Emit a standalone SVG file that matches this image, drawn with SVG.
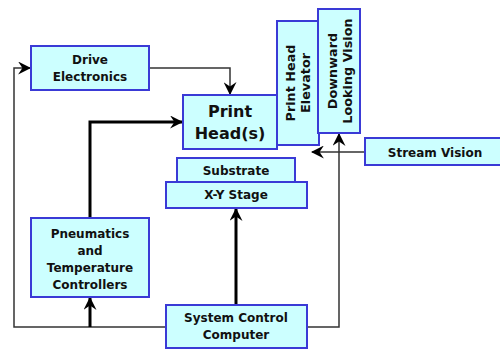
<svg xmlns="http://www.w3.org/2000/svg" width="500" height="349" viewBox="0 0 500 349">
<defs>
<marker id="ah" markerUnits="userSpaceOnUse" markerWidth="13" markerHeight="13" viewBox="0 0 12 12" refX="11" refY="6" orient="auto">
<path d="M0,0 L12,6 L0,12 L4,6 z" fill="#000"/>
</marker>
<style>
.box{fill:#ccffff;stroke:#3a3ad6;stroke-width:2}
.t{font-family:"DejaVu Sans",Verdana,sans-serif;font-weight:bold;font-size:12px;fill:#111;text-anchor:middle}
.big{font-size:16px}
.rot{font-size:12.8px}
.thin{fill:none;stroke:#333;stroke-width:1.5}
.thick{fill:none;stroke:#000;stroke-width:3}
</style>
</defs>
<rect width="500" height="349" fill="#fff"/>
<g id="connectors">
<path class="thin" d="M149,68 H230 V94" marker-end="url(#ah)"/>
<path class="thick" d="M90,218 V122 H182" marker-end="url(#ah)"/>
<path class="thin" d="M166,327 H14 V68 H30" marker-end="url(#ah)"/>
<path class="thick" d="M90,327 V298" marker-end="url(#ah)"/>
<path class="thick" d="M236,305 V209" marker-end="url(#ah)"/>
<path class="thin" d="M307,327 H339 V134" marker-end="url(#ah)"/>
<path class="thin" d="M365,152 H312" marker-end="url(#ah)"/>
</g>
<g id="drive-electronics">
<rect class="box" x="31" y="46" width="118" height="44"/>
<text class="t" x="90" y="64">Drive</text>
<text class="t" x="90" y="81">Electronics</text>
</g>
<g id="print-heads">
<rect class="box" x="183" y="95" width="94" height="54"/>
<text class="t big" x="230" y="117">Print</text>
<text class="t big" x="230" y="139">Head(s)</text>
</g>
<g id="print-head-elevator">
<rect class="box" x="277" y="21" width="42" height="124"/>
<text class="t rot" transform="translate(294.5,83) rotate(-90)">Print Head</text>
<text class="t rot" transform="translate(309.5,83) rotate(-90)">Elevator</text>
</g>
<g id="downward-looking-vision">
<rect class="box" x="318" y="9" width="42" height="124"/>
<text class="t rot" transform="translate(336.5,71) rotate(-90)">Downward</text>
<text class="t rot" transform="translate(351.5,71) rotate(-90)">Looking Vision</text>
</g>
<g id="stream-vision">
<rect class="box" x="365" y="138" width="140" height="27"/>
<text class="t" x="435" y="157">Stream Vision</text>
</g>
<g id="substrate">
<rect class="box" x="177" y="158" width="118" height="24"/>
<text class="t" x="236" y="175">Substrate</text>
</g>
<g id="xy-stage">
<rect class="box" x="166" y="182" width="141" height="26"/>
<text class="t" x="236" y="199">X-Y Stage</text>
</g>
<g id="pneumatics">
<rect class="box" x="31" y="218" width="118" height="79"/>
<text class="t" x="90" y="238">Pneumatics</text>
<text class="t" x="90" y="255">and</text>
<text class="t" x="90" y="272">Temperature</text>
<text class="t" x="90" y="289">Controllers</text>
</g>
<g id="system-control-computer">
<rect class="box" x="166" y="305" width="141" height="43"/>
<text class="t" x="236" y="322">System Control</text>
<text class="t" x="236" y="339">Computer</text>
</g>
</svg>
